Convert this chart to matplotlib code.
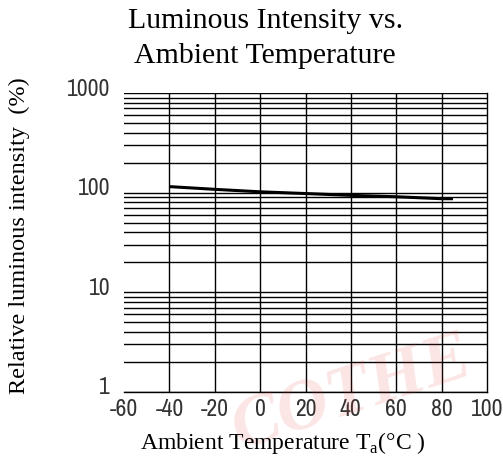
import matplotlib
matplotlib.use("Agg")
import matplotlib.pyplot as plt
import matplotlib.transforms as mtransforms
from matplotlib import font_manager
from matplotlib.ticker import LogLocator, NullFormatter, FixedLocator
import numpy as np

# data
temp = [-40, -20, 0, 20, 40, 60, 80, 85]
intensity = [115, 108, 102, 98, 94, 91, 87, 87]

x_ticks = [-60, -40, -20, 0, 20, 40, 60, 80, 100]
y_ticks = [1, 10, 100, 1000]
y_labels = ["1", "10", "100", "1000"]

serif = "Liberation Serif"

# tick labels in the reference use a narrow sans face; pick a regular one if present
narrow_font = None
cands = [f for f in font_manager.fontManager.ttflist
         if ("narrow" in f.name.lower() or "condensed" in f.name.lower()
             or "narrow" in f.fname.lower() or "condensed" in f.fname.lower())
         and f.style == "normal" and f.weight in (400, "normal", "regular")]
cands.sort(key=lambda f: (0 if "narrow" in f.fname.lower() else 1, f.fname))
if cands:
    narrow_font = cands[0].fname
if narrow_font:
    tick_fp = font_manager.FontProperties(fname=narrow_font, size=17)
else:
    tick_fp = font_manager.FontProperties(family="DejaVu Sans", stretch="condensed", size=14)

fig = plt.figure(figsize=(5.03, 4.64), dpi=100)
ax = fig.add_axes([124 / 503, 1 - 393 / 464, 363 / 503, 299 / 464])

ax.set_yscale("log")
ax.set_xlim(-60, 100)
ax.set_ylim(1, 1000)

# grid
ax.xaxis.set_major_locator(FixedLocator(x_ticks))
ax.yaxis.set_major_locator(FixedLocator(y_ticks))
ax.yaxis.set_minor_locator(LogLocator(base=10, subs=np.arange(2, 10)))
ax.yaxis.set_minor_formatter(NullFormatter())
ax.grid(True, which="both", axis="y", color="black", lw=1.0)
for xv in x_ticks[1:-1]:
    ax.axvline(xv, color="black", lw=1.0)

ax.plot(temp, intensity, color="black", lw=2.2, solid_capstyle="butt", zorder=3)

for s in ["left", "top"]:
    ax.spines[s].set_visible(False)
ax.spines["right"].set_linewidth(1.0)
ax.spines["bottom"].set_linewidth(1.0)

ax.tick_params(which="both", length=0)
ax.set_xticklabels([str(v) for v in x_ticks], fontproperties=tick_fp, color="#333333")
ax.set_yticklabels(y_labels, fontproperties=tick_fp, color="#333333")
ax.tick_params(axis="x", pad=4)
ax.tick_params(axis="y", pad=10)
off = mtransforms.ScaledTranslation(0, 7 / 100, fig.dpi_scale_trans)
for lbl in ax.get_yticklabels():
    lbl.set_transform(lbl.get_transform() + off)

fig.text(0.527, 1 - 21 / 464, "Luminous Intensity vs.", ha="center", va="center",
         family=serif, fontsize=21.5)
fig.text(0.527, 1 - 56 / 464, "Ambient Temperature", ha="center", va="center",
         family=serif, fontsize=21.5)
fig.text(283 / 503, 1 - 443 / 464, r"Ambient Temperature T$_\mathregular{a}$(°C )",
         ha="center", va="center", family=serif, fontsize=17)
fig.text(19 / 503, 1 - 236 / 464, "Relative luminous intensity  (%)", ha="center",
         va="center", rotation=90, family=serif, fontsize=17.5)

# faint watermark
fig.text(0.70, 0.15, "COTHE", color="#e03030", alpha=0.13, fontsize=52,
         fontweight="bold", style="italic", rotation=18, ha="center", va="center",
         family=serif, zorder=0)

fig.savefig("out.png", dpi=100)
